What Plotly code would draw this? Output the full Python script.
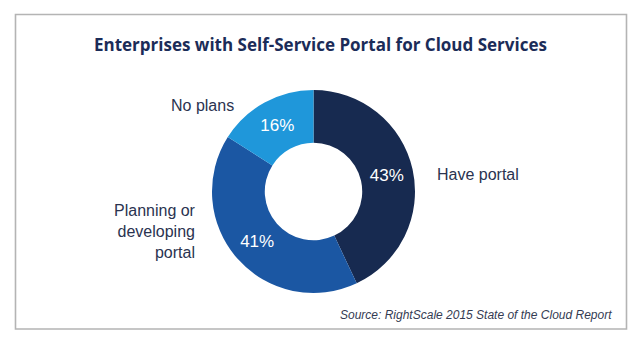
import plotly.graph_objects as go

# Survey shares (percent of enterprises)
categories = ["Have portal", "Planning or developing portal", "No plans"]
shares = [43, 41, 16]
slice_colors = ["#172a50", "#1b57a3", "#1f97da"]

W, H = 640, 343

fig = go.Figure(go.Pie(
    labels=categories,
    values=shares,
    sort=False,
    direction="clockwise",
    rotation=0,
    hole=0.48,
    marker=dict(colors=slice_colors, line=dict(width=0)),
    texttemplate="%{value}%",
    textposition="inside",
    insidetextorientation="horizontal",
    textfont=dict(family="Liberation Sans, Arial, sans-serif", size=17, color="white"),
    showlegend=False,
    hoverinfo="label+percent",
    domain=dict(x=[212 / W, 415 / W], y=[1 - 293 / H, 1 - 90 / H]),
))

label_font = dict(family="Liberation Sans, Arial, sans-serif", size=16, color="#2a3350")

annotations = [
    dict(text="<b>Enterprises with Self-Service Portal for Cloud Services</b>",
         x=320 / W, y=1 - 44 / H, xanchor="center", yanchor="middle",
         font=dict(family="Open Sans, Arial, sans-serif", size=17, color="#1b2c58")),
    dict(text="No plans", x=236 / W, y=1 - 105 / H, xanchor="right", yanchor="middle",
         font=label_font),
    dict(text="Planning or<br>developing<br>portal", x=198 / W, y=1 - 232 / H,
         xanchor="right", yanchor="middle", align="right", font=label_font),
    dict(text="Have portal", x=435 / W, y=1 - 174 / H, xanchor="left", yanchor="middle",
         font=label_font),
    dict(text="<i>Source: RightScale 2015 State of the Cloud Report</i>",
         x=614 / W, y=1 - 315 / H, xanchor="right", yanchor="middle",
         font=dict(family="Liberation Sans, Arial, sans-serif", size=12, color="#343b52")),
]
for a in annotations:
    a.update(xref="paper", yref="paper", showarrow=False)

fig.update_layout(
    width=W, height=H,
    margin=dict(l=0, r=0, t=0, b=0),
    paper_bgcolor="white",
    plot_bgcolor="white",
    annotations=annotations,
    shapes=[dict(type="rect", xref="paper", yref="paper",
                 x0=15.5 / W, x1=626.5 / W, y0=1 - 329 / H, y1=1 - 14.5 / H,
                 line=dict(color="#b4b4b4", width=1.6))],
)

fig.write_html("out.html")
